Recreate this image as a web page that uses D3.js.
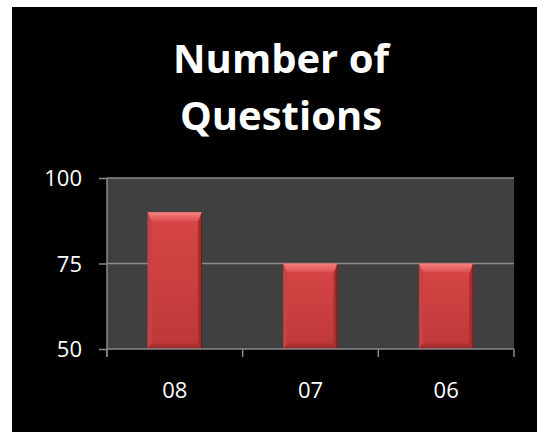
<!DOCTYPE html>
<html><head><meta charset="utf-8">
<script src="https://cdn.jsdelivr.net/npm/d3@7"></script>
<style>html,body{margin:0;padding:0;background:#fff;overflow:hidden}</style>
</head><body>
<script>
const categories = ["08", "07", "06"];
const values = [90, 75, 75];
const yTicks = [50, 75, 100];
const titleLines = ["Number of", "Questions"];

const W = 537, H = 432;
const svg = d3.select("body").append("svg").attr("width", W).attr("height", H);
svg.append("rect").attr("x", 12).attr("y", 7).attr("width", W - 12).attr("height", H - 7).attr("fill", "#000");

const plot = {left: 107, right: 514, top: 178, bottom: 349};
const x = d3.scaleBand().domain(categories).range([plot.left, plot.right]).paddingInner(0.6).paddingOuter(0.3);
const xb = d3.scaleBand().domain(categories).range([plot.left, plot.right]);
const y = d3.scaleLinear().domain([50, 100]).range([plot.bottom, plot.top]);

const defs = svg.append("defs");
const g1 = defs.append("linearGradient").attr("id", "face").attr("x1", 0).attr("y1", 0).attr("x2", 0).attr("y2", 1);
g1.append("stop").attr("offset", 0).attr("stop-color", "#d84646");
g1.append("stop").attr("offset", 1).attr("stop-color", "#bd3838");
const gt = defs.append("linearGradient").attr("id", "topb").attr("x1", 0).attr("y1", 0).attr("x2", 0).attr("y2", 1);
gt.append("stop").attr("offset", 0).attr("stop-color", "#f58080");
gt.append("stop").attr("offset", 1).attr("stop-color", "#dc4e4e");
const gb = defs.append("linearGradient").attr("id", "botb").attr("x1", 0).attr("y1", 0).attr("x2", 0).attr("y2", 1);
gb.append("stop").attr("offset", 0).attr("stop-color", "#b83636");
gb.append("stop").attr("offset", 1).attr("stop-color", "#962828");

svg.append("rect").attr("x", plot.left).attr("y", plot.top).attr("width", plot.right - plot.left).attr("height", plot.bottom - plot.top).attr("fill", "#404040");

// gridlines
svg.append("g").selectAll("line").data(yTicks.slice(1)).join("line")
  .attr("x1", plot.left).attr("x2", plot.right)
  .attr("y1", d => y(d)).attr("y2", d => y(d))
  .attr("stroke", "#8a8a8a").attr("stroke-width", 1.5);

// bars
const bt = 9, bs = 4, bbm = 6;
const bars = svg.append("g").selectAll("g").data(categories).join("g");
bars.each(function(c, i) {
  const g = d3.select(this);
  const x0 = x(c), x1 = x(c) + x.bandwidth(), y0 = y(values[i]), y1 = y(50);
  g.append("rect").attr("x", x0).attr("y", y0).attr("width", x1 - x0).attr("height", y1 - y0).attr("fill", "url(#face)");
  // left bevel
  g.append("polygon").attr("points", [[x0, y0], [x0 + bs, y0 + bt], [x0 + bs, y1 - bbm], [x0, y1]].join(" ")).attr("fill", "#c94242");
  // right bevel
  g.append("polygon").attr("points", [[x1, y0], [x1 - bs, y0 + bt], [x1 - bs, y1 - bbm], [x1, y1]].join(" ")).attr("fill", "#a42e2e");
  // top bevel
  g.append("polygon").attr("points", [[x0, y0], [x1, y0], [x1 - bs, y0 + bt], [x0 + bs, y0 + bt]].join(" ")).attr("fill", "url(#topb)");
  // bottom bevel
  g.append("polygon").attr("points", [[x0, y1], [x0 + bs, y1 - bbm], [x1 - bs, y1 - bbm], [x1, y1]].join(" ")).attr("fill", "url(#botb)");
  g.append("line").attr("x1", x1 - 0.5).attr("x2", x1 - 0.5).attr("y1", y0 + 1).attr("y2", y1).attr("stroke", "#6a1a1a").attr("stroke-width", 1);
});

// y axis
const yAxis = d3.axisLeft(y).tickValues(yTicks).tickSize(8).tickPadding(17).tickFormat(d3.format("d"));
const ya = svg.append("g").attr("transform", `translate(${plot.left},0)`).call(yAxis);
ya.select(".domain").attr("stroke", "#8a8a8a").attr("stroke-width", 1.5).attr("d", `M0,${plot.top}V${plot.bottom + 8}`);
ya.selectAll(".tick line").attr("stroke", "#8a8a8a").attr("stroke-width", 1.5);
ya.selectAll(".tick text").attr("fill", "#fff").attr("font-family", "Open Sans").attr("font-size", 22).attr("dy", "0.35em");

// x axis
const xa = svg.append("g").attr("transform", `translate(0,${plot.bottom})`);
xa.append("line").attr("x1", plot.left).attr("x2", plot.right).attr("y1", 0).attr("y2", 0).attr("stroke", "#8a8a8a").attr("stroke-width", 1.5);
const bounds = categories.map(c => xb(c)).concat([plot.right]);
xa.selectAll("line.tk").data(bounds).join("line").attr("class", "tk")
  .attr("x1", d => d).attr("x2", d => d).attr("y1", 0).attr("y2", 8)
  .attr("stroke", "#8a8a8a").attr("stroke-width", 1.5);
xa.selectAll("text").data(categories).join("text")
  .attr("x", c => xb(c) + xb.bandwidth() / 2).attr("y", 49)
  .attr("text-anchor", "middle").attr("fill", "#fff")
  .attr("font-family", "Open Sans").attr("font-size", 22).text(c => c);

// title
svg.append("g").selectAll("text").data(titleLines).join("text")
  .attr("x", 281).attr("y", (d, i) => 73 + i * 57)
  .attr("text-anchor", "middle").attr("fill", "#fff")
  .attr("font-family", "Open Sans").attr("font-weight", "bold").attr("font-size", 40)
  .text(d => d);
</script>
</body></html>
